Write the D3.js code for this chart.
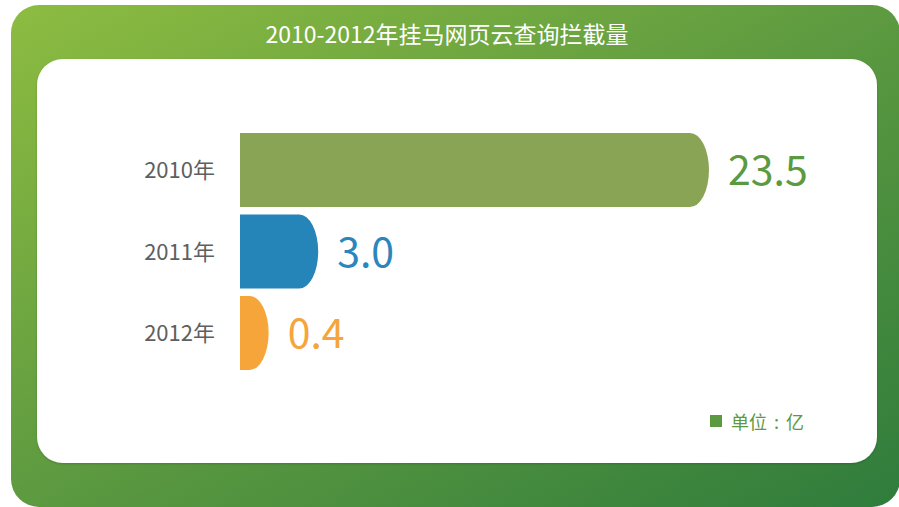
<!DOCTYPE html>
<html>
<head>
<meta charset="utf-8">
<script src="https://cdn.jsdelivr.net/npm/d3@7"></script>
<style>
  html, body { margin: 0; padding: 0; background: #fff; }
  svg { display: block; font-family: "Noto Sans CJK SC", "Noto Sans", sans-serif; }
</style>
</head>
<body>
<div id="chart"></div>
<script>
// data
const years = ["2010年", "2011年", "2012年"];
const values = [23.5, 3.0, 0.4];
const labels = ["23.5", "3.0", "0.4"];
const barColors = ["#8aa456", "#2584b8", "#f5a53a"];
const textColors = ["#5b9a40", "#2a86bc", "#f5a53a"];
const title = "2010-2012年挂马网页云查询拦截量";
const unitText = "单位 : 亿";

const W = 899, H = 507;

const svg = d3.select('#chart')
  .append('svg')
  .attr('width', W)
  .attr('height', H);

// background gradient
const defs = svg.append('defs');
const grad = defs.append('linearGradient')
  .attr('id', 'bg-grad')
  .attr('x1', '0%').attr('y1', '0%')
  .attr('x2', '100%').attr('y2', '100%');
grad.append('stop').attr('offset', '0%').attr('stop-color', '#8dbc41');
grad.append('stop').attr('offset', '50%').attr('stop-color', '#5d9a40');
grad.append('stop').attr('offset', '100%').attr('stop-color', '#2f7c3c');

const shadow = defs.append('filter').attr('id', 'soft')
  .attr('x', '-5%').attr('y', '-5%').attr('width', '110%').attr('height', '110%');
shadow.append('feDropShadow')
  .attr('dx', 0).attr('dy', 1).attr('stdDeviation', 1.2)
  .attr('flood-color', '#000').attr('flood-opacity', 0.18);

svg.append('rect')
  .attr('x', 11).attr('y', 5)
  .attr('width', 889).attr('height', 502)
  .attr('rx', 28).attr('ry', 28)
  .attr('fill', 'url(#bg-grad)');

// title
svg.append('text')
  .attr('x', 447).attr('y', 33)
  .attr('text-anchor', 'middle')
  .attr('dominant-baseline', 'central')
  .attr('fill', '#ffffff')
  .style('font-size', '23px')
  .text(title);

// inner panel
svg.append('rect')
  .attr('x', 37).attr('y', 59)
  .attr('width', 840).attr('height', 404)
  .attr('rx', 26).attr('ry', 26)
  .attr('fill', '#ffffff')
  .attr('filter', 'url(#soft)');

// scales
const x = d3.scaleLinear()
  .domain([0, d3.max(values)])
  .range([242, 690]);

const y = d3.scaleBand()
  .domain(years)
  .range([133, 370])
  .paddingInner(0.09)
  .paddingOuter(0);

const capR = 19;

function barPath(v, yr) {
  const x0 = 240, x1 = x(v);
  const y0 = y(yr), h = y.bandwidth();
  const ry = h / 2;
  return `M${x0},${y0} L${x1},${y0} A${capR},${ry} 0 0 1 ${x1},${y0 + h} L${x0},${y0 + h} Z`;
}

const rows = years.map((yr, i) => ({ yr, v: values[i], label: labels[i], bar: barColors[i], txt: textColors[i] }));

const g = svg.append('g');

g.selectAll('path.bar')
  .data(rows)
  .enter()
  .append('path')
  .attr('class', 'bar')
  .attr('d', d => barPath(d.v, d.yr))
  .attr('fill', d => d.bar);

// category labels
g.selectAll('text.cat')
  .data(rows)
  .enter()
  .append('text')
  .attr('class', 'cat')
  .attr('x', 215)
  .attr('y', d => y(d.yr) + y.bandwidth() / 2 - 2)
  .attr('text-anchor', 'end')
  .attr('dominant-baseline', 'central')
  .attr('fill', '#5f5f5f')
  .style('font-size', '22px')
  .text(d => d.yr);

// value labels
g.selectAll('text.val')
  .data(rows)
  .enter()
  .append('text')
  .attr('class', 'val')
  .attr('x', d => x(d.v) + capR + 19)
  .attr('y', d => y(d.yr) + y.bandwidth() / 2 - 3)
  .attr('dominant-baseline', 'central')
  .attr('fill', d => d.txt)
  .style('font-size', '41px')
  .text(d => d.label);

// unit legend
svg.append('rect')
  .attr('x', 710).attr('y', 415)
  .attr('width', 12).attr('height', 12)
  .attr('fill', '#5b9a40');
svg.append('text')
  .attr('x', 731).attr('y', 421)
  .attr('dominant-baseline', 'central')
  .attr('fill', '#5b9a40')
  .style('font-size', '18px')
  .style('word-spacing', '3px')
  .text(unitText);
</script>
</body>
</html>
